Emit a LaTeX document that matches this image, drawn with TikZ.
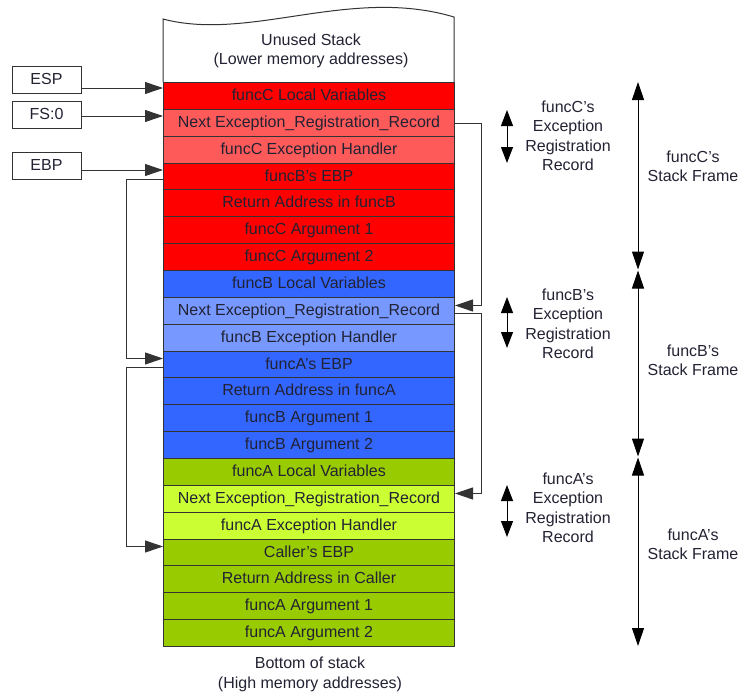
\documentclass[tikz,border=0pt]{standalone}
\usepackage{fontspec}
\setmainfont{Liberation Sans}
\usetikzlibrary{arrows.meta}
\definecolor{cr}{HTML}{FF0000}
\definecolor{clr}{HTML}{FF5A5A}
\definecolor{cb}{HTML}{3366FF}
\definecolor{clb}{HTML}{7799FF}
\definecolor{cg}{HTML}{99CC00}
\definecolor{clg}{HTML}{CCFF33}
\definecolor{lc}{HTML}{333333}
\definecolor{tc}{HTML}{222233}
\begin{document}
\begin{tikzpicture}[x=1pt,y=-1pt,
  font=\fontsize{16}{19.5}\selectfont,
  cell/.style={draw=lc, line width=1pt, minimum width=291pt, minimum height=26.857pt, inner sep=0pt, text height=12pt, text depth=3pt, anchor=north west, text=tc},
  reg/.style={draw=lc, line width=1pt, minimum width=69pt, minimum height=27pt, inner sep=0pt, text height=12pt, text depth=3pt, text=tc},
  link/.style={draw=lc, line width=1pt, -{Triangle[length=18pt,width=12pt]}},
  dbl/.style={draw=black, line width=1pt, {Triangle[length=16pt,width=12pt]}-{Triangle[length=16pt,width=12pt]}},
  frm/.style={draw=black, line width=1pt, {Triangle[length=18pt,width=12pt]}-{Triangle[length=18pt,width=12pt]}},
  lbl/.style={align=center, text=tc, inner sep=0pt}]
\useasboundingbox (0,0) rectangle (743,693);

% unused stack
\filldraw[draw=lc, fill=white, line width=1pt] (163,82) -- (163,19) .. controls (250,42) and (350,-14) .. (454,17) -- (454,82);
\node[lbl] (unused) at (311,51) {Unused Stack\\(Lower memory addresses)};

\foreach \i/\c/\t in {
  1/cr/funcC Local Variables,
  2/clr/Next Exception\_Registration\_Record,
  3/clr/funcC Exception Handler,
  4/cr/funcB’s EBP,
  5/cr/Return Address in funcB,
  6/cr/funcC Argument 1,
  7/cr/funcC Argument 2,
  8/cb/funcB Local Variables,
  9/clb/Next Exception\_Registration\_Record,
  10/clb/funcB Exception Handler,
  11/cb/funcA’s EBP,
  12/cb/Return Address in funcA,
  13/cb/funcB Argument 1,
  14/cb/funcB Argument 2,
  15/cg/funcA Local Variables,
  16/clg/Next Exception\_Registration\_Record,
  17/clg/funcA Exception Handler,
  18/cg/Caller’s EBP,
  19/cg/Return Address in Caller,
  20/cg/funcA Argument 1,
  21/cg/funcA Argument 2}
  \node[cell, fill=\c] (r\i) at (163, {82+(\i-1)*26.857}) {\t};

\node[lbl] (bottom) at (310,674.5) {Bottom of stack\\(High memory addresses)};

% registers
\node[reg] (esp) at (46.5,79.5) {ESP};
\node[reg] (fs) at (46.5,115) {FS:0};
\node[reg] (ebp) at (46.5,165.5) {EBP};
\coordinate (espA) at ([yshift=-8.5pt]esp.east);
\coordinate (fsA) at ([yshift=-1pt]fs.east);
\coordinate (ebpA) at ([yshift=-4.5pt]ebp.east);
\draw[link] (espA) -- (espA -| r1.west);
\draw[link] (fsA) -- (fsA -| r2.west);
\draw[link] (ebpA) -- (ebpA -| r4.west);

% EBP chain (left)
\coordinate (bendL) at (126,0);
\coordinate (o4) at ([yshift=-3pt]r4.west);
\coordinate (i11) at ([yshift=6pt]r11.west);
\coordinate (o11) at ([yshift=-3pt]r11.west);
\coordinate (i18) at ([yshift=6pt]r18.west);
\draw[link] (o4) -- (o4 -| bendL) |- (i11);
\draw[link] (o11) -- (o11 -| bendL) |- (i18);

% SEH chain (right)
\coordinate (bendR) at (481,0);
\coordinate (o2) at ([yshift=-0.7pt]r2.east);
\coordinate (i9) at ([yshift=5.3pt]r9.east);
\coordinate (o9) at ([yshift=-2.7pt]r9.east);
\coordinate (i16) at ([yshift=5.3pt]r16.east);
\draw[link] (o2) -- (o2 -| bendR) |- (i9);
\draw[link] (o9) -- (o9 -| bendR) |- (i16);

% exception record arrows
\coordinate (eCt) at (507,110); \coordinate (eCb) at (507,163);
\coordinate (eBt) at (507,297); \coordinate (eBb) at (507,348);
\coordinate (eAt) at (507,485); \coordinate (eAb) at (507,537);
\draw[dbl] (eCt) -- (eCb);
\draw[dbl] (eBt) -- (eBb);
\draw[dbl] (eAt) -- (eAb);
\node[lbl] (errC) at (568,136) {funcC’s\\Exception\\Registration\\Record};
\node[lbl] (errB) at (568,324) {funcB’s\\Exception\\Registration\\Record};
\node[lbl] (errA) at (568,508) {funcA’s\\Exception\\Registration\\Record};

% stack frame arrows
\coordinate (fCt) at (638,82); \coordinate (fCb) at (638,269.5);
\coordinate (fBt) at (638,270.5); \coordinate (fBb) at (638,456.5);
\coordinate (fAt) at (638,457.5); \coordinate (fAb) at (638,646);
\draw[frm] (fCt) -- (fCb);
\draw[frm] (fBt) -- (fBb);
\draw[frm] (fAt) -- (fAb);
\node[lbl] (sfC) at (693,166.5) {funcC’s\\Stack Frame};
\node[lbl] (sfB) at (693,360.5) {funcB’s\\Stack Frame};
\node[lbl] (sfA) at (693,544.5) {funcA’s\\Stack Frame};
\end{tikzpicture}
\end{document}
